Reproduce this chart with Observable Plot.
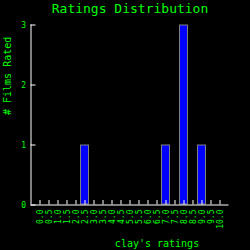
<!DOCTYPE html>
<html><head><meta charset="utf-8">
<script src="https://cdn.jsdelivr.net/npm/d3@7"></script>
<script src="https://cdn.jsdelivr.net/npm/@observablehq/plot@0.6"></script>
<style>html,body{margin:0;padding:0;background:#000;}</style>
</head><body><div id="chart"></div>
<script>
const ratings = [0.0,0.5,1.0,1.5,2.0,2.5,3.0,3.5,4.0,4.5,5.0,5.5,6.0,6.5,7.0,7.5,8.0,8.5,9.0,9.5,10.0];
const counts  = [0,  0,  0,  0,  0,  1,  0,  0,  0,  0,  0,  0,  0,  0,  1,  0,  3,  0,  1,  0,  0];
const yTicks = [0,1,2,3];
const title = "Ratings Distribution";
const xLabel = "clay's ratings";
const yLabel = "# Films Rated";

const data = ratings.map((r,i)=>({rating:r, count:counts[i]})).filter(d=>d.count>0);
const green = "#00ff00";
const font = "DejaVu Sans Mono";

const plot = Plot.plot({
  width:250, height:250,
  marginLeft:30.5, marginRight:21.5, marginTop:24.5, marginBottom:45.5,
  style:{background:"#000", color:green, fontFamily:font, fontSize:"8px"},
  x:{domain:[-0.5,10.5]},
  y:{domain:[0,3]},
  marks:[
    Plot.rectY(data,{x1:d=>d.rating-0.25, x2:d=>d.rating+0.25, y1:0, y2:"count", fill:"#0000ff", stroke:"#808080", strokeWidth:1, inset:0.5}),
    Plot.axisX({ticks:ratings, tickFormat:d3.format(".1f"), tickSize:-4.5, tickPadding:9, tickRotate:-90, stroke:"#fff", fill:green, fontSize:8, label:null}),
    Plot.axisY({ticks:yTicks, tickFormat:d3.format("d"), tickSize:-5, tickPadding:10, stroke:"#fff", fill:green, fontSize:8, label:null}),
    Plot.ruleX([-0.5],{stroke:"#fff"}),
    Plot.ruleY([0],{stroke:"#fff"}),
    Plot.text([title],{text:d=>d, frameAnchor:"top", dy:-16.5, fill:green, fontSize:13, lineAnchor:"middle"}),
    Plot.text([xLabel],{text:d=>d, frameAnchor:"bottom", dx:27, dy:38.5, fill:green, fontSize:10, lineAnchor:"middle"}),
    Plot.text([yLabel],{text:d=>d, frameAnchor:"left", dx:-23, rotate:-90, fill:green, fontSize:10, lineAnchor:"middle"})
  ]
});
document.getElementById("chart").appendChild(plot);
</script>
</body></html>
